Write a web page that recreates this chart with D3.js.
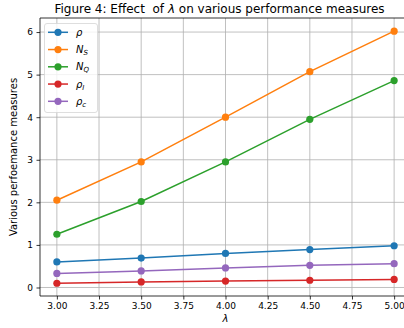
<!DOCTYPE html>
<html><head><meta charset="utf-8">
<script src="https://cdn.jsdelivr.net/npm/d3@7"></script>
<style>body{margin:0;background:#fff}svg{font-family:"DejaVu Sans",sans-serif}</style>
</head><body><svg id="c" width="404" height="328"></svg>
<script>
const lambda = [3.0, 3.5, 4.0, 4.5, 5.0];
const rho   = [0.60, 0.69, 0.80, 0.89, 0.98];
const Ns    = [2.05, 2.95, 4.00, 5.07, 6.02];
const Nq    = [1.25, 2.02, 2.95, 3.95, 4.86];
const rhoI  = [0.10, 0.13, 0.15, 0.17, 0.19];
const rhoC  = [0.33, 0.39, 0.46, 0.52, 0.56];
const xTicks = [3.00, 3.25, 3.50, 3.75, 4.00, 4.25, 4.50, 4.75, 5.00];
const yTicks = [0, 1, 2, 3, 4, 5, 6];
const series = [
  {name:["ρ",""], vals:rho, color:"#1f77b4"},
  {name:["N","S"], vals:Ns, color:"#ff7f0e"},
  {name:["N","Q"], vals:Nq, color:"#2ca02c"},
  {name:["ρ","I"], vals:rhoI, color:"#d62728"},
  {name:["ρ","c"], vals:rhoC, color:"#9467bd"}
];
const svg = d3.select("#c");
const L=40, R=411, T=18, B=296;
const x = d3.scaleLinear().domain([2.9,5.1]).range([L,R]);
const y = d3.scaleLinear().domain([-0.2,6.33]).range([B,T]);
const g = svg.append("g");
// grid
g.selectAll(".gx").data(xTicks).join("line").attr("x1",d=>x(d)).attr("x2",d=>x(d)).attr("y1",T).attr("y2",B).attr("stroke","#b0b0b0").attr("stroke-width",0.8);
g.selectAll(".gy").data(yTicks).join("line").attr("y1",d=>y(d)).attr("y2",d=>y(d)).attr("x1",L).attr("x2",R).attr("stroke","#b0b0b0").attr("stroke-width",0.8);
// axes
const xa = svg.append("g").attr("transform",`translate(0,${B})`).call(d3.axisBottom(x).tickValues(xTicks).tickFormat(d3.format(".2f")).tickSize(3.5).tickPadding(3.5));
const ya = svg.append("g").attr("transform",`translate(${L},0)`).call(d3.axisLeft(y).tickValues(yTicks).tickFormat(d3.format("d")).tickSize(3.5).tickPadding(3.5));
[xa,ya].forEach(a=>{a.selectAll("text").attr("font-size",9).attr("fill","#000").attr("font-family","DejaVu Sans");a.selectAll("line").attr("stroke","#000").attr("stroke-width",0.8);a.select(".domain").remove();});
svg.append("line").attr("x1",L).attr("x2",L).attr("y1",T).attr("y2",B).attr("stroke","#000").attr("stroke-width",0.8);
svg.append("line").attr("x1",L).attr("x2",R).attr("y1",B).attr("y2",B).attr("stroke","#000").attr("stroke-width",0.8);
svg.append("line").attr("x1",L).attr("x2",R).attr("y1",T).attr("y2",T).attr("stroke","#000").attr("stroke-width",0.8);
// lines
const line = d3.line().x((d,i)=>x(lambda[i])).y(d=>y(d));
series.forEach(s=>{
  svg.append("path").attr("d",line(s.vals)).attr("fill","none").attr("stroke",s.color).attr("stroke-width",1.5);
  svg.selectAll(null).data(s.vals).join("circle").attr("cx",(d,i)=>x(lambda[i])).attr("cy",d=>y(d)).attr("r",3.6).attr("fill",s.color);
});
// legend
const lg = svg.append("g");
lg.append("rect").attr("x",44.5).attr("y",23.5).attr("width",53).attr("height",89).attr("rx",2.5).attr("fill","#fff").attr("fill-opacity",0.8).attr("stroke","#d6d6d6").attr("stroke-width",0.8);
series.forEach((s,i)=>{
  const yy = 32.3 + i*17.25;
  lg.append("line").attr("x1",48).attr("x2",68).attr("y1",yy).attr("y2",yy).attr("stroke",s.color).attr("stroke-width",1.5);
  lg.append("circle").attr("cx",58).attr("cy",yy).attr("r",3.6).attr("fill",s.color);
  const t = lg.append("text").attr("x",76).attr("y",yy+3.5).attr("font-size",10).attr("fill","#000");
  t.append("tspan").attr("font-style","italic").text(s.name[0]);
  if(s.name[1]) t.append("tspan").attr("font-style","italic").attr("font-size",7).attr("dy",2).text(s.name[1]);
});
// title
const tt = svg.append("text").attr("x",(L+R)/2 - 6).attr("y",13).attr("text-anchor","middle").attr("font-size",12).attr("fill","#000");
tt.append("tspan").text("Figure 4: Effect\u00a0 of ");
tt.append("tspan").attr("font-style","italic").text("λ");
tt.append("tspan").text(" on various performance measures");
svg.append("text").attr("transform",`translate(17,${(T+B)/2}) rotate(-90)`).attr("text-anchor","middle").attr("font-size",10).attr("fill","#000").text("Various perfoemance measures");
svg.append("text").attr("x",x(4.0)).attr("y",322).attr("text-anchor","middle").attr("font-size",10).attr("font-style","italic").attr("fill","#000").text("λ");
</script></body></html>
